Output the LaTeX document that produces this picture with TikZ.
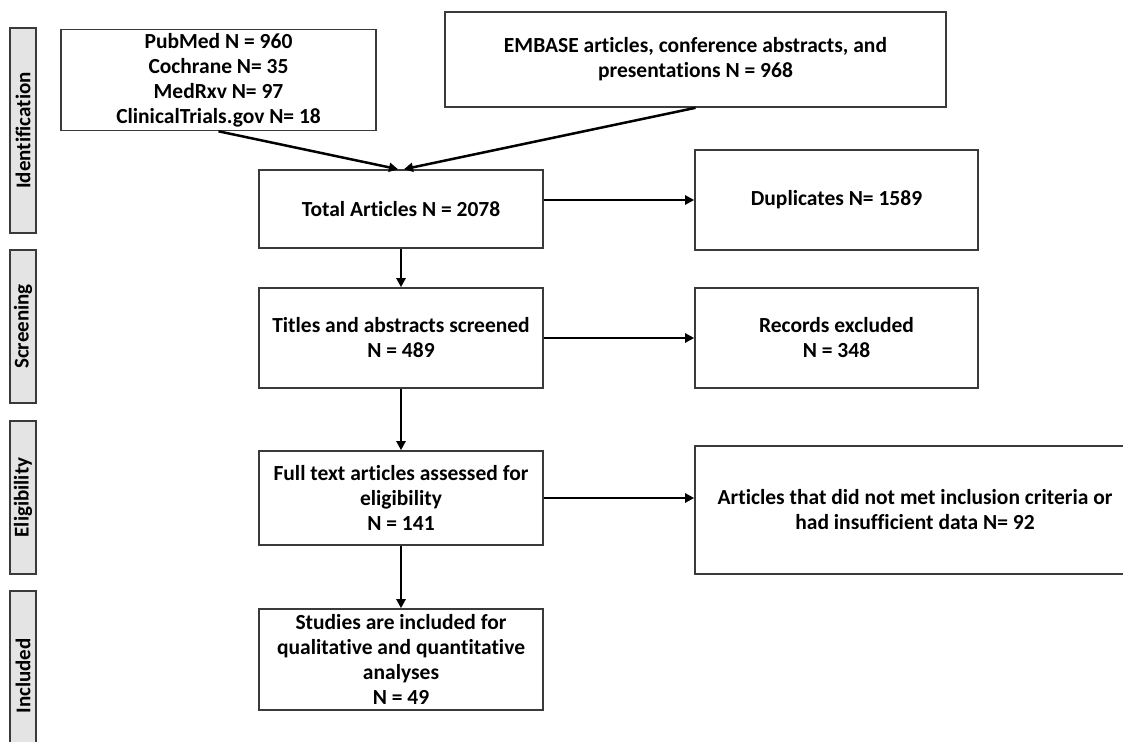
\documentclass[tikz,border=0pt]{standalone}
\usepackage{fontspec}
\setmainfont{Carlito}[Ligatures=NoCommon]
\usetikzlibrary{arrows.meta}
\definecolor{boxline}{HTML}{3A3A3A}
\definecolor{barfill}{HTML}{E4E4E4}
\begin{document}
\begin{tikzpicture}[x=1pt,y=-1pt,
  box/.style={draw=boxline,line width=1.6pt,fill=white,align=center,inner sep=2pt,
    font=\fontsize{21.5}{25}\selectfont\bfseries},
  bar/.style={draw=boxline,line width=1.6pt,fill=barfill,minimum width=26pt,inner sep=0pt,
    rotate=90,font=\fontsize{21}{24}\selectfont\bfseries},
  arr/.style={line width=2.5pt,-{Triangle[length=9pt,width=9pt]}}]
\useasboundingbox (0,0) rectangle (1123,741);
\clip (0,0) rectangle (1123,741);
% side bars
\node[bar,minimum width=205pt,minimum height=26pt] (idb) at (23,130.5) {Identification};
\node[bar,minimum width=153pt,minimum height=26pt] (scb) at (23,326.5) {Screening};
\node[bar,minimum width=153pt,minimum height=26pt] (elb) at (23,497.5) {Eligibility};
\node[bar,minimum width=170pt,minimum height=26pt] (inb) at (23,676) {Included};
% boxes
\node[box,minimum width=315pt,minimum height=101pt] (pub) at (218.5,80)
  {PubMed N = 960\\Cochrane N= 35\\MedRxv N= 97\\ClinicalTrials.gov N= 18};
\node[box,minimum width=501pt,minimum height=95pt] (emb) at (695.5,59.5)
  {EMBASE articles, conference abstracts, and\\presentations N = 968};
\node[box,minimum width=284pt,minimum height=78pt] (tot) at (401,209) {Total Articles N = 2078};
\node[box,minimum width=283pt,minimum height=100pt] (dup) at (836.5,200) {Duplicates N= 1589};
\node[box,minimum width=284pt,minimum height=100pt] (tit) at (401,338)
  {Titles and abstracts screened\\N = 489};
\node[box,minimum width=283pt,minimum height=100pt] (rec) at (836.5,338)
  {Records excluded\\N = 348};
\node[box,minimum width=284pt,minimum height=94pt] (ful) at (401,498)
  {Full text articles assessed for\\eligibility\\N = 141};
\node[box,minimum width=440pt,minimum height=128pt] (art) at (915,510)
  {Articles that did not met inclusion criteria or\\had insufficient data N= 92};
\node[box,minimum width=284pt,minimum height=101pt] (stu) at (401,659.5)
  {Studies are included for\\qualitative and quantitative\\analyses\\N = 49};
% connectors
\draw[arr] (pub.south) -- ([xshift=-3pt]tot.north);
\draw[arr] (emb.south) -- ([xshift=3pt]tot.north);
\draw[arr] (tot.east |- dup.west) -- (dup.west);
\draw[arr] (tot.south) -- (tit.north);
\draw[arr] (tit.east) -- (rec.west);
\draw[arr] (tit.south) -- (ful.north);
\draw[arr] (ful.east) -- (art.west |- ful.east);
\draw[arr] (ful.south) -- (stu.north);
\end{tikzpicture}
\end{document}
